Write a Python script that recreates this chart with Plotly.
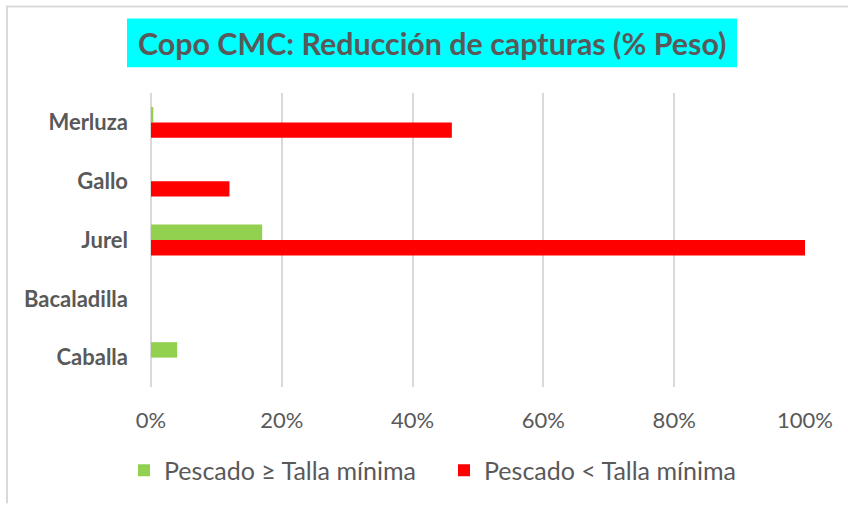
import plotly.graph_objects as go

# Species (top to bottom) and reduction of catch in weight (%)
especies = ["Merluza", "Gallo", "Jurel", "Bacaladilla", "Caballa"]
pescado_mayor = [0.35, 0.0, 17.0, 0.0, 4.0]     # Pescado ≥ Talla mínima
pescado_menor = [46.0, 12.0, 100.0, 0.0, 0.0]   # Pescado < Talla mínima
ticks_x = [0, 20, 40, 60, 80, 100]
etiquetas_x = ["0%", "20%", "40%", "60%", "80%", "100%"]

TXT = "#595959"
GRID = "#d9d9d9"
FONT = "Lato, 'Open Sans', sans-serif"

fig = go.Figure()
fig.add_trace(go.Bar(
    y=especies, x=pescado_mayor, orientation="h",
    name="Pescado ≥ Talla mínima", marker=dict(color="#92D050", line=dict(width=0)),
))
fig.add_trace(go.Bar(
    y=especies, x=pescado_menor, orientation="h",
    name="Pescado < Talla mínima", marker=dict(color="#FF0000", line=dict(width=0)),
))

W, H = 848, 506
L, R, T, B = 151, 805, 93, 389
pw, ph = R - L, B - T


def px_x(v):
    return (v - L) / pw


def px_y(v):
    return 1 - (v - T) / ph


shapes = [
    # title box
    dict(type="rect", xref="paper", yref="paper",
         x0=px_x(127), x1=px_x(737), y0=px_y(67), y1=px_y(18),
         fillcolor="#00FFFF", line=dict(width=0), layer="below"),
    # chart frame (top and left edges)
    dict(type="line", xref="paper", yref="paper",
         x0=px_x(6), x1=px_x(848), y0=px_y(6), y1=px_y(6),
         line=dict(color=GRID, width=2)),
    dict(type="line", xref="paper", yref="paper",
         x0=px_x(7), x1=px_x(7), y0=px_y(6), y1=px_y(506),
         line=dict(color=GRID, width=2)),
]

fig.update_layout(
    width=W, height=H,
    margin=dict(l=L, r=W - R, t=T, b=H - B, pad=0),
    paper_bgcolor="white", plot_bgcolor="white",
    barmode="group", bargap=0.476, bargroupgap=0,
    font=dict(family=FONT, color=TXT),
    shapes=shapes,
    annotations=[dict(
        text="<b>Copo CMC: Reducción de capturas (% Peso)</b>",
        xref="paper", yref="paper", x=px_x(432), y=px_y(43),
        xanchor="center", yanchor="middle", showarrow=False,
        font=dict(size=30.4, color=TXT, family=FONT),
    )],
    showlegend=True,
    legend=dict(
        orientation="h", xref="paper", yref="paper",
        x=px_x(124), y=px_y(450), xanchor="left", yanchor="top",
        font=dict(size=25, color=TXT), itemwidth=30,
        entrywidth=275, entrywidthmode="pixels",
        traceorder="normal", itemclick=False,
    ),
)

fig.update_xaxes(
    range=[0, 100], tickvals=ticks_x, ticktext=etiquetas_x,
    showgrid=True, gridcolor=GRID, gridwidth=2,
    zeroline=True, zerolinecolor=GRID, zerolinewidth=2,
    showline=False, ticks="", ticklabelstandoff=18,
    tickfont=dict(size=22, color=TXT),
    fixedrange=True,
)
fig.update_yaxes(
    autorange="reversed", type="category",
    showgrid=False, zeroline=False, showline=False, ticks="",
    ticklabelstandoff=22,
    tickfont=dict(size=22, color=TXT, family=FONT, weight="bold"),
    fixedrange=True,
)

fig.write_html("out.html", config={"displayModeBar": False})
